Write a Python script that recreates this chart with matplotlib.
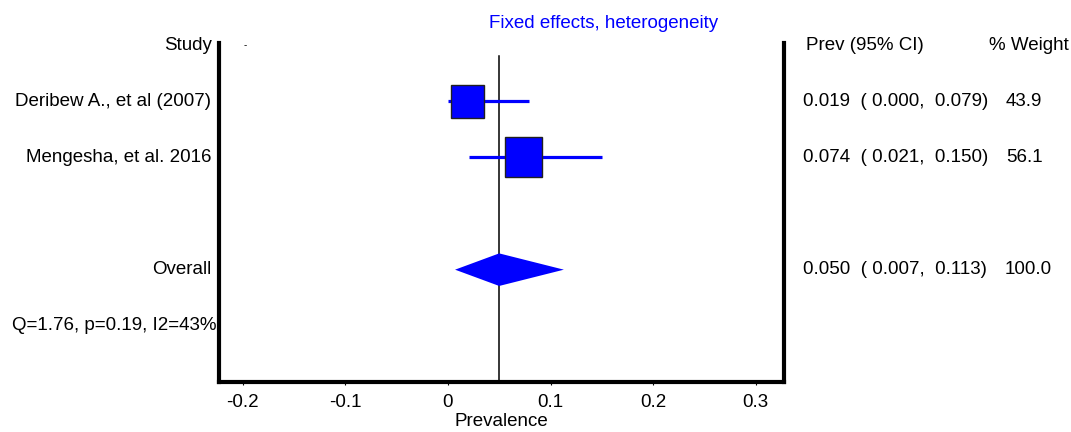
import matplotlib
matplotlib.use("Agg")
import matplotlib.pyplot as plt
from matplotlib.patches import Rectangle, Polygon
from matplotlib.transforms import blended_transform_factory

plt.rcParams['font.family'] = ['Liberation Sans', 'DejaVu Sans']

# ---- data ----
studies = ["Deribew A., et al (2007)", "Mengesha, et al. 2016"]
prev = [0.019, 0.074]
ci_low = [0.000, 0.021]
ci_high = [0.079, 0.150]
weights = [43.9, 56.1]
pooled = 0.050
pooled_low = 0.007
pooled_high = 0.113
het_text = "Q=1.76, p=0.19, I2=43%"
xticks = [-0.2, -0.1, 0, 0.1, 0.2, 0.3]
xtick_labels = ["-0.2", "-0.1", "0", "0.1", "0.2", "0.3"]

# ---- layout ----
W, H = 1071, 432
fig = plt.figure(figsize=(W / 100, H / 100), dpi=100)
ax_l, ax_r, ax_t, ax_b = 219, 783.5, 43, 382
ax = fig.add_axes([ax_l / W, 1 - ax_b / H, (ax_r - ax_l) / W, (ax_b - ax_t) / H])
ax.set_xlim(-0.223, 0.327)
ax.set_ylim(6.0, -0.036)

blue = "#0000ff"
rows = [1, 2]
overall_row = 4
het_row = 5
# square sizes (data width, row height)
sq_w = [0.0322, 0.036]
sq_h = [0.59, 0.71]

for r, p, lo, hi, w, h in zip(rows, prev, ci_low, ci_high, sq_w, sq_h):
    ax.plot([lo, hi], [r, r], color=blue, lw=2.3, solid_capstyle='butt', zorder=2)
    ax.add_patch(Rectangle((p - w / 2, r - h / 2), w, h, facecolor=blue,
                           edgecolor='#202020', lw=1.0, zorder=3))

dh = 0.29
ax.add_patch(Polygon([[pooled_low, overall_row], [pooled, overall_row - dh],
                      [pooled_high, overall_row], [pooled, overall_row + dh]],
                     closed=True, facecolor=blue, edgecolor='none', zorder=3))
ax.plot([pooled, pooled], [6.0, 0.2], color='black', lw=1.1, zorder=1)

# spines
for s in ['left', 'right', 'bottom']:
    ax.spines[s].set_linewidth(3.0)
ax.spines['top'].set_visible(False)
ax.set_yticks([])
ax.set_xticks(xticks)
ax.set_xticklabels(xtick_labels)
ax.tick_params(axis='x', direction='out', length=2.5, width=0.8, pad=6, labelsize=13.5)
ax.patch.set_alpha(0)

fs = 13.5
tr = blended_transform_factory(fig.transFigure, ax.transData)
fx = lambda px: px / W

ax.text(fx(212), 0, "Study", transform=tr, ha='right', va='center', fontsize=fs)
ax.text(fx(245), 0, "-", transform=tr, ha='center', va='center', fontsize=7)
for r, name in zip(rows, studies):
    ax.text(fx(211), r, name, transform=tr, ha='right', va='center', fontsize=fs)
ax.text(fx(211), overall_row, "Overall", transform=tr, ha='right', va='center', fontsize=fs)
ax.text(fx(12), het_row, het_text, transform=tr, ha='left', va='center', fontsize=fs)

ax.text(fx(806), 0, "Prev (95% CI)", transform=tr, ha='left', va='center', fontsize=fs)
ax.text(fx(1069), 0, "% Weight", transform=tr, ha='right', va='center', fontsize=fs)
for r, p, lo, hi, w in zip(rows, prev, ci_low, ci_high, weights):
    ax.text(fx(803), r, f"{p:.3f}  ( {lo:.3f},  {hi:.3f})", transform=tr,
            ha='left', va='center', fontsize=fs)
    ax.text(fx(1006), r, f"{w:.1f}", transform=tr, ha='left', va='center', fontsize=fs)
ax.text(fx(803), overall_row, f"{pooled:.3f}  ( {pooled_low:.3f},  {pooled_high:.3f})",
        transform=tr, ha='left', va='center', fontsize=fs)
ax.text(fx(1005), overall_row, f"{sum(weights):.1f}", transform=tr, ha='left', va='center', fontsize=fs)

fig.text(604 / W, 1 - 24 / H, "Fixed effects, heterogeneity", color=blue,
         ha='center', va='center', fontsize=fs)
fig.text(501 / W, 1 - 421.5 / H, "Prevalence", ha='center', va='center', fontsize=fs)

fig.savefig("out.png", dpi=100)
